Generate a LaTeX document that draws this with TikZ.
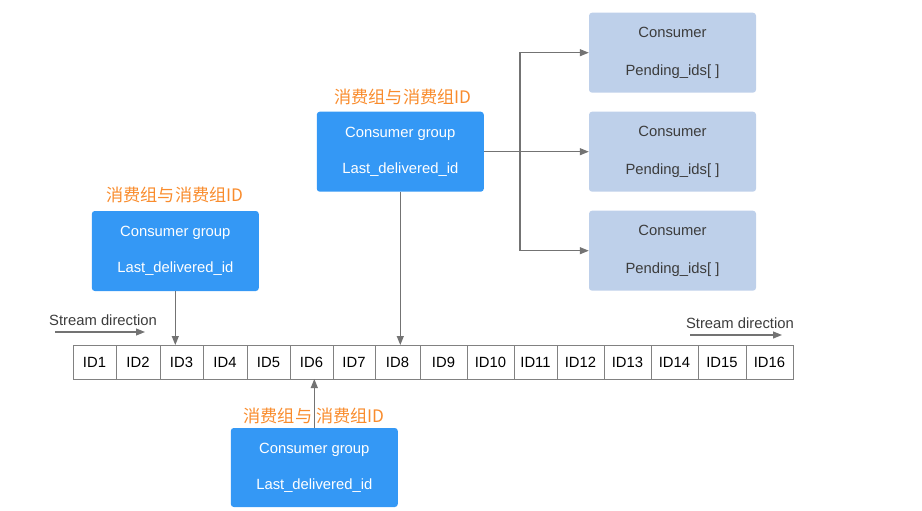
\documentclass[tikz,border=0pt]{standalone}
\usepackage{fontspec}
\setmainfont{Liberation Sans}
\newfontfamily\cjk{Noto Sans CJK SC}
\usetikzlibrary{arrows.meta}
\definecolor{grpblue}{RGB}{52,152,245}
\definecolor{conblue}{RGB}{190,208,234}
\definecolor{lbl}{RGB}{249,140,45}
\definecolor{lin}{RGB}{115,115,115}
\definecolor{txt}{RGB}{60,60,60}
\tikzset{
  grp/.style={draw=none, fill=grpblue, rounded corners=3pt, text=white, align=center,
    minimum width=167pt, minimum height=80pt, inner sep=0pt,
    font=\fontsize{14.8}{36}\selectfont},
  con/.style={draw=none, fill=conblue, rounded corners=3pt, text=txt, align=center,
    minimum width=167pt, minimum height=80pt, inner sep=0pt,
    font=\fontsize{14.8}{38}\selectfont},
  tag/.style={text=lbl, font=\cjk\fontsize{17.2}{20}\selectfont, inner sep=0pt},
  cell/.style={draw=lin!90, line width=0.8pt, minimum height=34pt, inner sep=0pt,
    outer sep=0pt, text=black, text height=10.5pt, text depth=0pt,
    font=\fontsize{14.8}{16}\selectfont},
  arr/.style={draw=lin, line width=1.1pt, -{Triangle[length=9pt,width=7pt]}},
  sdir/.style={text=txt, font=\fontsize{14.8}{16}\selectfont, inner sep=0pt},
}
\begin{document}
\begin{tikzpicture}[x=1pt,y=-1pt]
\useasboundingbox (0,0) rectangle (922,511);
\clip (0,0) rectangle (922,511);
% cells
\foreach \i/\l/\r in {1/73/116,2/116/160,3/160/203,4/203/247,5/247/290,6/290/333,
  7/333/375,8/375/420,9/420/467,10/467/514,11/514/557,12/557/604,13/604/651,
  14/651/698,15/698/746,16/746/793}
  \node[cell, minimum width={(\r-\l)*1pt}] (c\i) at ({(\l+\r)/2},362) {ID\i};
% groups
\node[grp] (g1) at (175.3,251) {Consumer group\\Last\_delivered\_id};
\node[tag] (t1) at (175,195) {消费组与消费组ID};
\node[grp] (g2) at (400.3,151.7) {Consumer group\\Last\_delivered\_id};
\node[tag] (t2) at (403,97) {消费组与消费组ID};
\node[grp, minimum height=79pt] (g3) at (314.3,467.5) {Consumer group\\Last\_delivered\_id};
\node[tag] (t3) at (314,416) {消费组与\ 消费组ID};
% consumers
\node[con] (k1) at (672.5,52.7) {Consumer\\Pending\_ids[ ]};
\node[con] (k2) at (672.5,151.7) {Consumer\\Pending\_ids[ ]};
\node[con] (k3) at (672.5,250.7) {Consumer\\Pending\_ids[ ]};
% stream direction
\node[sdir, anchor=west] (s1) at (49,320) {Stream direction};
\coordinate (s1a) at (55,332);
\coordinate (s1b) at (145,332);
\draw[arr] (s1a) -- (s1b);
\node[sdir, anchor=east] (s2) at (794,323) {Stream direction};
\coordinate (s2a) at (690,335);
\coordinate (s2b) at (782,335);
\draw[arr] (s2a) -- (s2b);
% connectors
\draw[arr] (g1.south) -- (g1.south |- c3.north);
\draw[arr] (g2.south) -- (g2.south |- c8.north);
\draw[arr] (g3.north) -- (g3.north |- c6.south);
\coordinate (br) at (520,151.7);
\draw[arr] (g2.east) -- (k2.west);
\draw[arr] (br) |- (k1.west);
\draw[arr] (br) |- (k3.west);
\end{tikzpicture}
\end{document}
